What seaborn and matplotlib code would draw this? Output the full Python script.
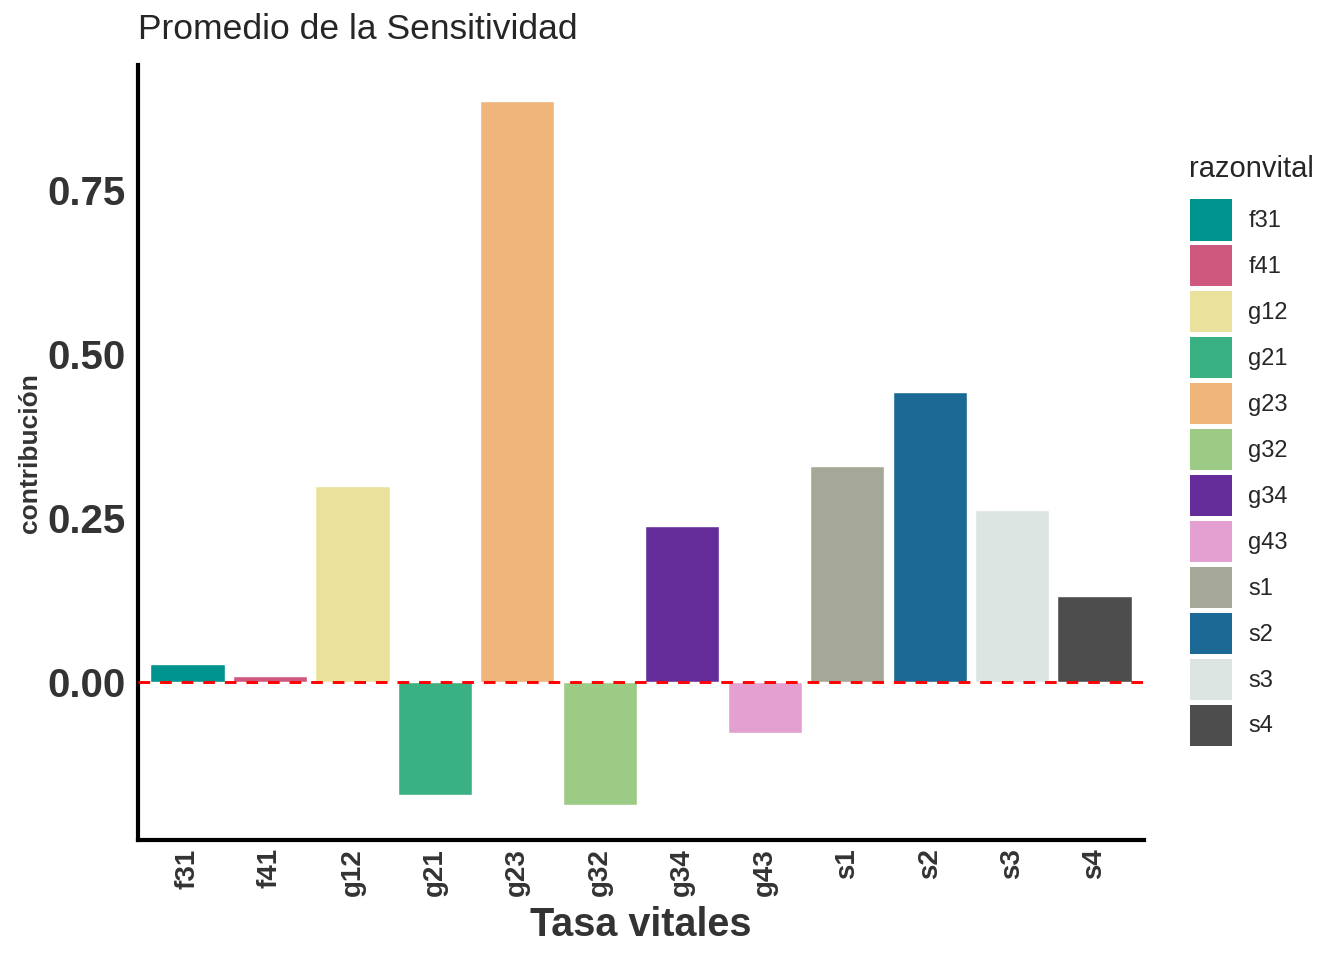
import matplotlib
matplotlib.use("Agg")
import matplotlib.pyplot as plt
import matplotlib.patches as mpatches
import seaborn as sns
import pandas as pd

# Datos
razonvital = ["f31", "f41", "g12", "g21", "g23", "g32", "g34", "g43", "s1", "s2", "s3", "s4"]
contribucion = [0.027, 0.009, 0.299, -0.173, 0.887, -0.187, 0.238, -0.077, 0.329, 0.443, 0.263, 0.131]
colores = ["#00948F", "#CF597E", "#EAE29C", "#3AB182", "#EFB57A", "#9CCB86",
           "#652D9A", "#E4A0D1", "#A6A897", "#1D6996", "#DCE5E2", "#4D4D4D"]

df = pd.DataFrame({"razonvital": razonvital, "contribucion": contribucion})
paleta = dict(zip(razonvital, colores))

sns.set_style("white")
plt.rcParams["font.family"] = ["Liberation Sans", "DejaVu Sans"]

fig = plt.figure(figsize=(13.44, 9.6), dpi=100)
ax = fig.add_axes([0.1027, 0.125, 0.7485, 0.807])

sns.barplot(data=df, x="razonvital", y="contribucion", hue="razonvital",
            palette=paleta, order=razonvital, dodge=False, legend=False,
            width=0.9, saturation=1, ax=ax)

# linea de referencia en cero
ax.axhline(0, color="red", linestyle=(0, (4, 3.4)), linewidth=2.1, zorder=3)

ax.set_xlim(-0.6, 11.6)
ax.set_ylim(-0.241, 0.941)
ax.set_yticks([0, 0.25, 0.5, 0.75])
ax.set_yticklabels(["0.00", "0.25", "0.50", "0.75"])

for s in ["top", "right"]:
    ax.spines[s].set_visible(False)
for s in ["left", "bottom"]:
    ax.spines[s].set_linewidth(3)
    ax.spines[s].set_color("black")

ax.tick_params(axis="y", labelsize=29, length=4, width=1.2, pad=5)
ax.tick_params(axis="x", labelsize=20, length=4, width=1.2,
               labelrotation=90, pad=2)
for lab in ax.get_xticklabels() + ax.get_yticklabels():
    lab.set_fontweight("bold")
    lab.set_color("#333333")
ax.tick_params(axis="both", color="#333333")

ax.set_xlabel("Tasa vitales", fontsize=28.5, fontweight="bold", color="#333333", labelpad=7)
ax.set_ylabel("contribución", fontsize=19, fontweight="bold", color="#333333", labelpad=4)
ax.set_title("Promedio de la Sensitividad", fontsize=25.5, loc="left", pad=19, x=0.0)

# leyenda manual
fig.text(1189 / 1344, 1 - 169 / 960, "razonvital", fontsize=21, va="center", ha="left")
handles = [mpatches.Patch(facecolor=c, edgecolor="none", label=n) for n, c in zip(razonvital, colores)]
leg = fig.legend(handles=handles, loc="upper left",
                 bbox_to_anchor=(1181 / 1344, 1 - 190 / 960), frameon=False, fontsize=17,
                 handlelength=1.77, handleheight=2.3,
                 labelspacing=0.205, handletextpad=0.68, borderaxespad=0, borderpad=0.4)

fig.savefig("out.png", dpi=100)
